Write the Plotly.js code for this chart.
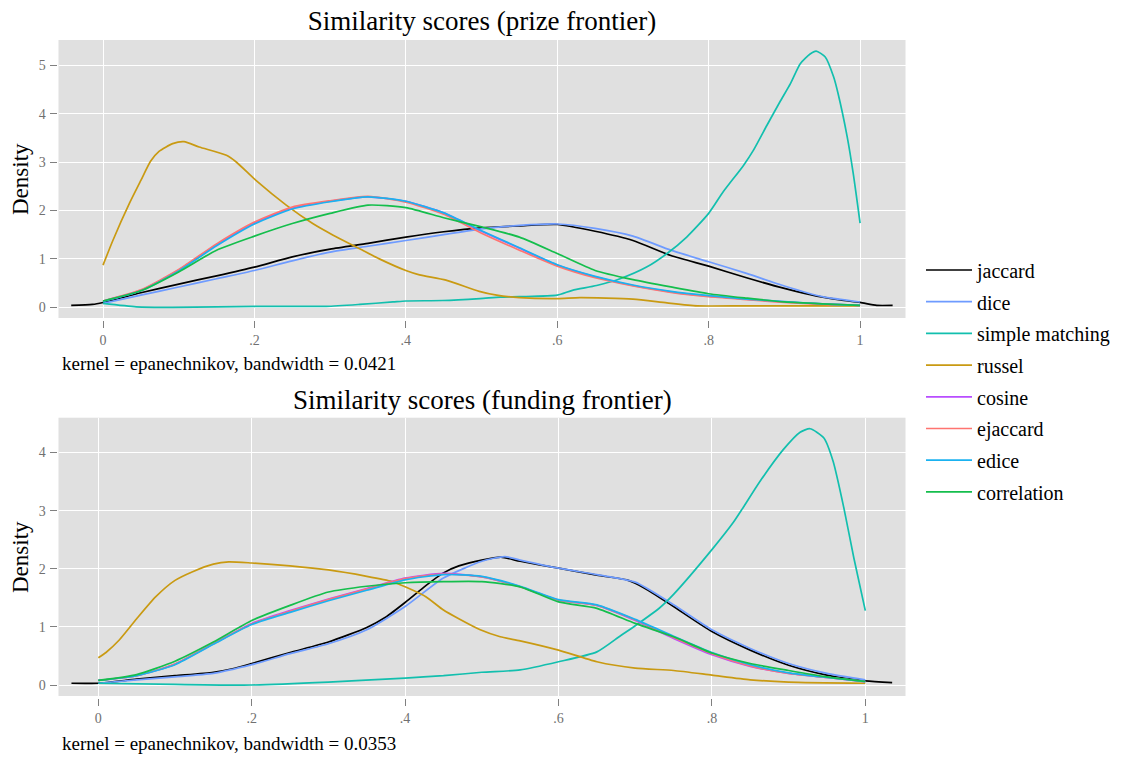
<!DOCTYPE html>
<html>
<head>
<meta charset="utf-8">
<script src="https://cdn.plot.ly/plotly-3.0.1.min.js"></script>
<style>html,body{margin:0;padding:0;background:#fff;}</style>
</head>
<body>
<div id="chart" style="width:1124px;height:760px;"></div>
<script>
// ---------- data ----------
var seriesNames = ['jaccard', 'dice', 'simple matching', 'russel', 'cosine', 'ejaccard', 'edice', 'correlation'];
var seriesColors = ['#000000', '#6E9BFF', '#12BFAE', '#C99A12', '#B84DFF', '#FF7470', '#1AB2F0', '#14BE4C'];

var grid = [0, 0.05, 0.1, 0.15, 0.2, 0.25, 0.3, 0.35, 0.4, 0.45, 0.5, 0.55, 0.6, 0.65, 0.7, 0.75, 0.8, 0.85, 0.9, 0.95, 1.0];

// Panel 1: prize frontier
var prizeJaccardX = [-0.042, -0.014, 0, 0.05, 0.1, 0.15, 0.2, 0.25, 0.3, 0.35, 0.4, 0.45, 0.5, 0.55, 0.6, 0.65, 0.7, 0.75, 0.8, 0.85, 0.9, 0.943, 0.974, 1.0, 1.022, 1.043];
var prizeJaccardY = [0.04, 0.06, 0.10, 0.30, 0.48, 0.65, 0.83, 1.04, 1.20, 1.32, 1.45, 1.56, 1.64, 1.68, 1.71, 1.57, 1.38, 1.07, 0.85, 0.61, 0.39, 0.23, 0.15, 0.10, 0.04, 0.04];
var prizeDiceY = [0.08, 0.25, 0.42, 0.59, 0.76, 0.96, 1.14, 1.26, 1.38, 1.50, 1.62, 1.69, 1.72, 1.63, 1.47, 1.18, 0.94, 0.70, 0.44, 0.22, 0.11];
var prizeSimpleX = [0, 0.044, 0.092, 0.207, 0.295, 0.339, 0.383, 0.4, 0.449, 0.498, 0.525, 0.55, 0.6, 0.62, 0.652, 0.683, 0.718, 0.745, 0.771, 0.8, 0.819, 0.846, 0.859, 0.877, 0.894, 0.908, 0.921, 0.934, 0.942, 0.954, 0.965, 0.971, 0.983, 0.991, 1.0];
var prizeSimpleY = [0.08, 0.01, 0.0, 0.02, 0.02, 0.06, 0.11, 0.13, 0.14, 0.18, 0.21, 0.22, 0.25, 0.35, 0.45, 0.59, 0.83, 1.11, 1.45, 1.94, 2.38, 2.93, 3.24, 3.76, 4.24, 4.62, 5.03, 5.23, 5.29, 5.17, 4.76, 4.41, 3.52, 2.76, 1.74];
var prizeRusselX = [0, 0.013, 0.035, 0.05, 0.063, 0.074, 0.092, 0.107, 0.127, 0.163, 0.176, 0.202, 0.242, 0.277, 0.304, 0.339, 0.365, 0.4, 0.418, 0.453, 0.497, 0.52, 0.55, 0.6, 0.63, 0.7, 0.745, 0.785, 0.85, 0.94, 1.0];
var prizeRusselY = [0.87, 1.38, 2.15, 2.62, 3.02, 3.22, 3.38, 3.42, 3.31, 3.14, 3.0, 2.62, 2.11, 1.73, 1.49, 1.21, 1.0, 0.76, 0.67, 0.56, 0.33, 0.25, 0.2, 0.18, 0.2, 0.17, 0.09, 0.03, 0.03, 0.03, 0.03];
var prizeCosineY = [0.13, 0.35, 0.77, 1.29, 1.74, 2.05, 2.19, 2.28, 2.19, 1.95, 1.57, 1.22, 0.87, 0.63, 0.45, 0.32, 0.23, 0.17, 0.11, 0.07, 0.04];
var prizeEjaccardY = [0.13, 0.36, 0.78, 1.31, 1.76, 2.07, 2.20, 2.29, 2.17, 1.92, 1.53, 1.18, 0.85, 0.61, 0.44, 0.31, 0.22, 0.16, 0.10, 0.06, 0.04];
var prizeEdiceY = [0.12, 0.34, 0.75, 1.27, 1.72, 2.03, 2.18, 2.28, 2.19, 1.95, 1.58, 1.23, 0.88, 0.64, 0.46, 0.33, 0.24, 0.17, 0.12, 0.07, 0.04];
var prizeCorrelationY = [0.13, 0.34, 0.73, 1.18, 1.47, 1.73, 1.94, 2.11, 2.06, 1.85, 1.66, 1.45, 1.11, 0.76, 0.57, 0.42, 0.28, 0.19, 0.11, 0.07, 0.04];

// Panel 2: funding frontier
var fundJaccardX = [-0.035, 0, 0.05, 0.1, 0.15, 0.175, 0.2, 0.25, 0.3, 0.35, 0.375, 0.4, 0.427, 0.45, 0.47, 0.5, 0.525, 0.55, 0.6, 0.65, 0.689, 0.7, 0.723, 0.75, 0.8, 0.85, 0.9, 0.95, 1.0, 1.035];
var fundJaccardY = [0.03, 0.03, 0.10, 0.16, 0.22, 0.28, 0.37, 0.56, 0.74, 0.99, 1.17, 1.42, 1.71, 1.93, 2.05, 2.15, 2.20, 2.13, 2.01, 1.89, 1.81, 1.75, 1.58, 1.35, 0.92, 0.60, 0.34, 0.17, 0.07, 0.04];
var fundDiceX = [0, 0.05, 0.1, 0.15, 0.2, 0.25, 0.3, 0.35, 0.4, 0.45, 0.5, 0.53, 0.55, 0.6, 0.65, 0.7, 0.75, 0.8, 0.85, 0.9, 0.95, 1.0];
var fundDiceY = [0.03, 0.09, 0.14, 0.20, 0.35, 0.54, 0.71, 0.95, 1.35, 1.84, 2.13, 2.21, 2.15, 2.01, 1.90, 1.77, 1.38, 0.95, 0.63, 0.37, 0.20, 0.09];
var fundSimpleX = [0, 0.1, 0.2, 0.3, 0.4, 0.45, 0.5, 0.55, 0.6, 0.65, 0.68, 0.7, 0.732, 0.75, 0.8, 0.828, 0.841, 0.863, 0.893, 0.915, 0.928, 0.946, 0.958, 0.972, 0.985, 1.0];
var fundSimpleY = [0.03, 0.01, 0.0, 0.05, 0.12, 0.16, 0.22, 0.26, 0.40, 0.57, 0.84, 1.02, 1.33, 1.56, 2.33, 2.80, 3.06, 3.51, 4.05, 4.35, 4.41, 4.25, 3.85, 3.05, 2.19, 1.28];
var fundRusselX = [0, 0.01, 0.027, 0.05, 0.075, 0.1, 0.123, 0.15, 0.17, 0.2, 0.25, 0.3, 0.35, 0.383, 0.4, 0.427, 0.45, 0.47, 0.498, 0.524, 0.55, 0.6, 0.65, 0.7, 0.75, 0.8, 0.85, 0.9, 1.0];
var fundRusselY = [0.47, 0.56, 0.77, 1.14, 1.52, 1.80, 1.95, 2.08, 2.12, 2.10, 2.05, 1.98, 1.87, 1.78, 1.69, 1.52, 1.29, 1.14, 0.95, 0.83, 0.76, 0.60, 0.40, 0.29, 0.25, 0.17, 0.09, 0.05, 0.03];
var fundCosineY = [0.08, 0.16, 0.36, 0.71, 1.06, 1.28, 1.48, 1.66, 1.84, 1.92, 1.86, 1.69, 1.46, 1.37, 1.11, 0.80, 0.52, 0.32, 0.20, 0.13, 0.06];
var fundEjaccardY = [0.08, 0.16, 0.36, 0.71, 1.05, 1.27, 1.47, 1.65, 1.83, 1.91, 1.86, 1.69, 1.46, 1.37, 1.12, 0.82, 0.54, 0.33, 0.20, 0.13, 0.06];
var fundEdiceY = [0.08, 0.16, 0.35, 0.70, 1.04, 1.25, 1.45, 1.63, 1.81, 1.90, 1.87, 1.70, 1.47, 1.38, 1.13, 0.84, 0.56, 0.35, 0.21, 0.13, 0.06];
var fundCorrelationY = [0.08, 0.18, 0.41, 0.74, 1.11, 1.37, 1.60, 1.70, 1.76, 1.78, 1.78, 1.69, 1.43, 1.32, 1.06, 0.83, 0.55, 0.37, 0.25, 0.14, 0.06];

var xTickVals = [0, 0.2, 0.4, 0.6, 0.8, 1];
var xTickText = ['0', '.2', '.4', '.6', '.8', '1'];
var prizeYTicks = [0, 1, 2, 3, 4, 5];
var fundYTicks = [0, 1, 2, 3, 4];

var prizeTitle = 'Similarity scores (prize frontier)';
var fundTitle = 'Similarity scores (funding frontier)';
var prizeNote = 'kernel = epanechnikov, bandwidth = 0.0421';
var fundNote = 'kernel = epanechnikov, bandwidth = 0.0353';
var yLabel = 'Density';

// ---------- build ----------
var W = 1124, H = 760;
var SERIF = 'Liberation Serif, Times New Roman, serif';

var prizeData = [
  [prizeJaccardX, prizeJaccardY], [grid, prizeDiceY], [prizeSimpleX, prizeSimpleY], [prizeRusselX, prizeRusselY],
  [grid, prizeCosineY], [grid, prizeEjaccardY], [grid, prizeEdiceY], [grid, prizeCorrelationY]
];
var fundData = [
  [fundJaccardX, fundJaccardY], [fundDiceX, fundDiceY], [fundSimpleX, fundSimpleY], [fundRusselX, fundRusselY],
  [grid, fundCosineY], [grid, fundEjaccardY], [grid, fundEdiceY], [grid, fundCorrelationY]
];

var traces = [];
function addPanel(data, xa, ya, showLegend) {
  data.forEach(function (d, i) {
    traces.push({
      type: 'scatter', mode: 'lines', x: d[0], y: d[1],
      name: seriesNames[i], legendgroup: seriesNames[i], showlegend: showLegend,
      xaxis: xa, yaxis: ya,
      line: { color: seriesColors[i], width: 1.7, shape: 'spline', smoothing: 0.6 },
      hoverinfo: 'x+y+name'
    });
  });
}
addPanel(prizeData, 'x', 'y', true);
addPanel(fundData, 'x2', 'y2', false);

function px2fx(px) { return px / W; }
function px2fy(py) { return 1 - py / H; }

var tickFont = { family: SERIF, size: 14, color: '#707070' };
function xAxis(domain, range, posPx) {
  return {
    domain: domain, range: range, anchor: 'free', position: px2fy(posPx),
    tickvals: xTickVals, ticktext: xTickText, ticks: 'outside', ticklen: 7, tickwidth: 1, tickcolor: '#808080',
    showgrid: true, gridcolor: '#ffffff', gridwidth: 1.2, zeroline: false, showline: false,
    tickfont: tickFont, fixedrange: true
  };
}
function yAxis(domain, range, ticks) {
  return {
    domain: domain, range: range, anchor: 'free', position: px2fx(56.5),
    tickvals: ticks, ticks: 'outside', ticklen: 7, tickwidth: 1, tickcolor: '#808080',
    showgrid: true, gridcolor: '#ffffff', gridwidth: 1.2, zeroline: false, showline: false,
    tickfont: tickFont, ticklabelstandoff: 1, fixedrange: true
  };
}

var xDom = [px2fx(58.5), px2fx(905.5)];
var layout = {
  width: W, height: H,
  margin: { l: 0, r: 0, t: 0, b: 0 },
  paper_bgcolor: '#ffffff', plot_bgcolor: '#e0e0e0',
  font: { family: SERIF, color: '#000000' },
  title: { text: prizeTitle, font: { family: SERIF, size: 27, color: '#000' },
           x: px2fx(482), xanchor: 'center', xref: 'paper', y: px2fy(21), yanchor: 'middle', yref: 'container' },
  xaxis: xAxis(xDom, [-0.0588, 1.060], 320),
  yaxis: yAxis([px2fy(318), px2fy(40)], [-0.221, 5.52], prizeYTicks),
  xaxis2: xAxis(xDom, [-0.0519, 1.0524], 698),
  yaxis2: yAxis([px2fy(696), px2fy(417.7)], [-0.189, 4.60], fundYTicks),
  showlegend: true,
  legend: {
    x: px2fx(921), xanchor: 'left', y: px2fy(381), yanchor: 'middle',
    font: { family: SERIF, size: 20, color: '#000' },
    traceorder: 'grouped', tracegroupgap: 2.7, itemwidth: 46, bgcolor: 'rgba(0,0,0,0)', borderwidth: 0
  },
  annotations: [
    { text: fundTitle, xref: 'paper', yref: 'paper', x: px2fx(482), y: px2fy(400), xanchor: 'center', yanchor: 'middle',
      showarrow: false, font: { family: SERIF, size: 27, color: '#000' } },
    { text: prizeNote, xref: 'paper', yref: 'paper', x: px2fx(60), y: px2fy(364), xanchor: 'left', yanchor: 'middle',
      showarrow: false, font: { family: SERIF, size: 19, color: '#000' } },
    { text: fundNote, xref: 'paper', yref: 'paper', x: px2fx(60), y: px2fy(743), xanchor: 'left', yanchor: 'middle',
      showarrow: false, font: { family: SERIF, size: 19, color: '#000' } },
    { text: yLabel, xref: 'paper', yref: 'paper', x: px2fx(20), y: px2fy(179), xanchor: 'center', yanchor: 'middle',
      textangle: -90, showarrow: false, font: { family: SERIF, size: 23, color: '#000' } },
    { text: yLabel, xref: 'paper', yref: 'paper', x: px2fx(20), y: px2fy(557), xanchor: 'center', yanchor: 'middle',
      textangle: -90, showarrow: false, font: { family: SERIF, size: 23, color: '#000' } }
  ]
};

Plotly.newPlot('chart', traces, layout, { displayModeBar: false, responsive: false });
</script>
</body>
</html>
